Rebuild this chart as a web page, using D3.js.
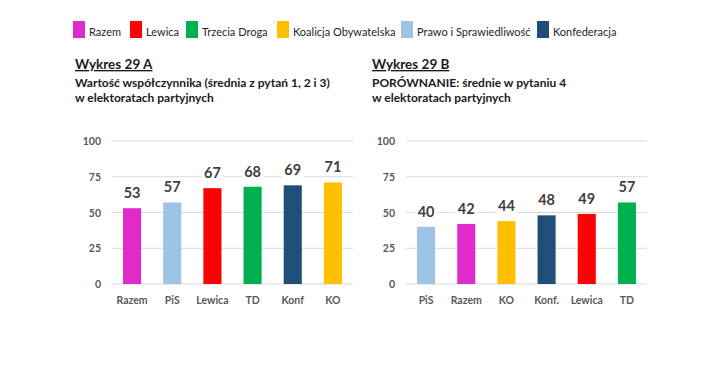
<!DOCTYPE html>
<html>
<head>
<meta charset="utf-8">
<script src="https://cdn.jsdelivr.net/npm/d3@7"></script>
<style>
  body { margin: 0; background: #fff; }
  svg { font-family: Lato, "Open Sans", sans-serif; }
</style>
</head>
<body>
<svg id="chart" width="720" height="376"></svg>
<script>
const parties = ['Razem', 'Lewica', 'Trzecia Droga', 'Koalicja Obywatelska', 'Prawo i Sprawiedliwość', 'Konfederacja']
const partyColors = ['#DE2BC9', '#FF0000', '#00B050', '#FFC000', '#9DC3E6', '#1F4E79']

const catsA = ['Razem', 'PiS', 'Lewica', 'TD', 'Konf', 'KO']
const valsA = [53, 57, 67, 68, 69, 71]
const colorsA = ['#DE2BC9', '#9DC3E6', '#FF0000', '#00B050', '#1F4E79', '#FFC000']

const catsB = ['PiS', 'Razem', 'KO', 'Konf.', 'Lewica', 'TD']
const valsB = [40, 42, 44, 48, 49, 57]
const colorsB = ['#9DC3E6', '#DE2BC9', '#FFC000', '#1F4E79', '#FF0000', '#00B050']

const yTicks = [0, 25, 50, 75, 100]

const svg = d3.select('#chart')

// legend
const legendX = [73, 130, 186, 277, 401, 537]
const legend = svg.append('g')
parties.forEach((p, i) => {
  legend.append('rect')
    .attr('x', legendX[i]).attr('y', 21)
    .attr('width', 12).attr('height', 17)
    .attr('fill', partyColors[i])
  legend.append('text')
    .attr('x', legendX[i] + 16).attr('y', 36)
    .attr('font-size', 11)
    .attr('fill', '#262626')
    .text(p)
})

function drawPanel(x0, titleX, title, sub1, sub2, cats, vals, colors) {
  svg.append('text')
    .attr('x', titleX).attr('y', 69)
    .attr('font-size', 13.5).attr('font-weight', 'bold')
    .attr('fill', '#1a1a1a')
    .attr('text-decoration', 'underline')
    .text(title)
  svg.append('text')
    .attr('x', titleX).attr('y', 87)
    .attr('font-size', 12).attr('font-weight', 'bold')
    .attr('fill', '#1a1a1a')
    .text(sub1)
  svg.append('text')
    .attr('x', titleX).attr('y', 102)
    .attr('font-size', 12).attr('font-weight', 'bold')
    .attr('fill', '#1a1a1a')
    .text(sub2)

  const x = d3.scaleBand().domain(cats).range([x0, x0 + 241]).paddingInner(0.55).paddingOuter(0.275)
  const y = d3.scaleLinear().domain([0, 100]).range([284, 141])

  const g = svg.append('g')

  g.selectAll('line.grid')
    .data(yTicks)
    .enter()
    .append('line')
    .attr('x1', x0).attr('x2', x0 + 241)
    .attr('y1', d => y(d)).attr('y2', d => y(d))
    .attr('stroke', '#d9d9d9').attr('stroke-width', 1)

  g.selectAll('text.tick')
    .data(yTicks)
    .enter()
    .append('text')
    .attr('x', x0 - 11).attr('y', d => y(d) + 4)
    .attr('text-anchor', 'end')
    .attr('font-size', 10.5).attr('font-weight', 'bold')
    .attr('fill', '#595959')
    .text(d => d)

  g.selectAll('rect.bar')
    .data(vals)
    .enter()
    .append('rect')
    .attr('x', (d, i) => x(cats[i]))
    .attr('y', d => y(d))
    .attr('width', x.bandwidth())
    .attr('height', d => y(0) - y(d))
    .attr('fill', (d, i) => colors[i])

  const labels = g.selectAll('g.lab')
    .data(vals)
    .enter()
    .append('g')
    .attr('transform', (d, i) => `translate(${x(cats[i]) + x.bandwidth() / 2},${y(d) - 10})`)
  labels.append('rect')
    .attr('x', -11).attr('y', -12).attr('width', 22).attr('height', 15)
    .attr('fill', '#fff')
  labels.append('text')
    .attr('text-anchor', 'middle')
    .attr('font-size', 14.5).attr('font-weight', 'bold')
    .attr('fill', '#404040')
    .text(d => d)

  g.selectAll('text.cat')
    .data(cats)
    .enter()
    .append('text')
    .attr('x', d => x(d) + x.bandwidth() / 2)
    .attr('y', 304)
    .attr('text-anchor', 'middle')
    .attr('font-size', 10.5).attr('font-weight', 'bold')
    .attr('fill', '#595959')
    .text(d => d)
}

drawPanel(112, 75, 'Wykres 29 A', 'Wartość współczynnika (średnia z pytań 1, 2 i 3)', 'w elektoratach partyjnych', catsA, valsA, colorsA)
drawPanel(406, 372, 'Wykres 29 B', 'PORÓWNANIE: średnie w pytaniu 4', 'w elektoratach partyjnych', catsB, valsB, colorsB)
</script>
</body>
</html>
